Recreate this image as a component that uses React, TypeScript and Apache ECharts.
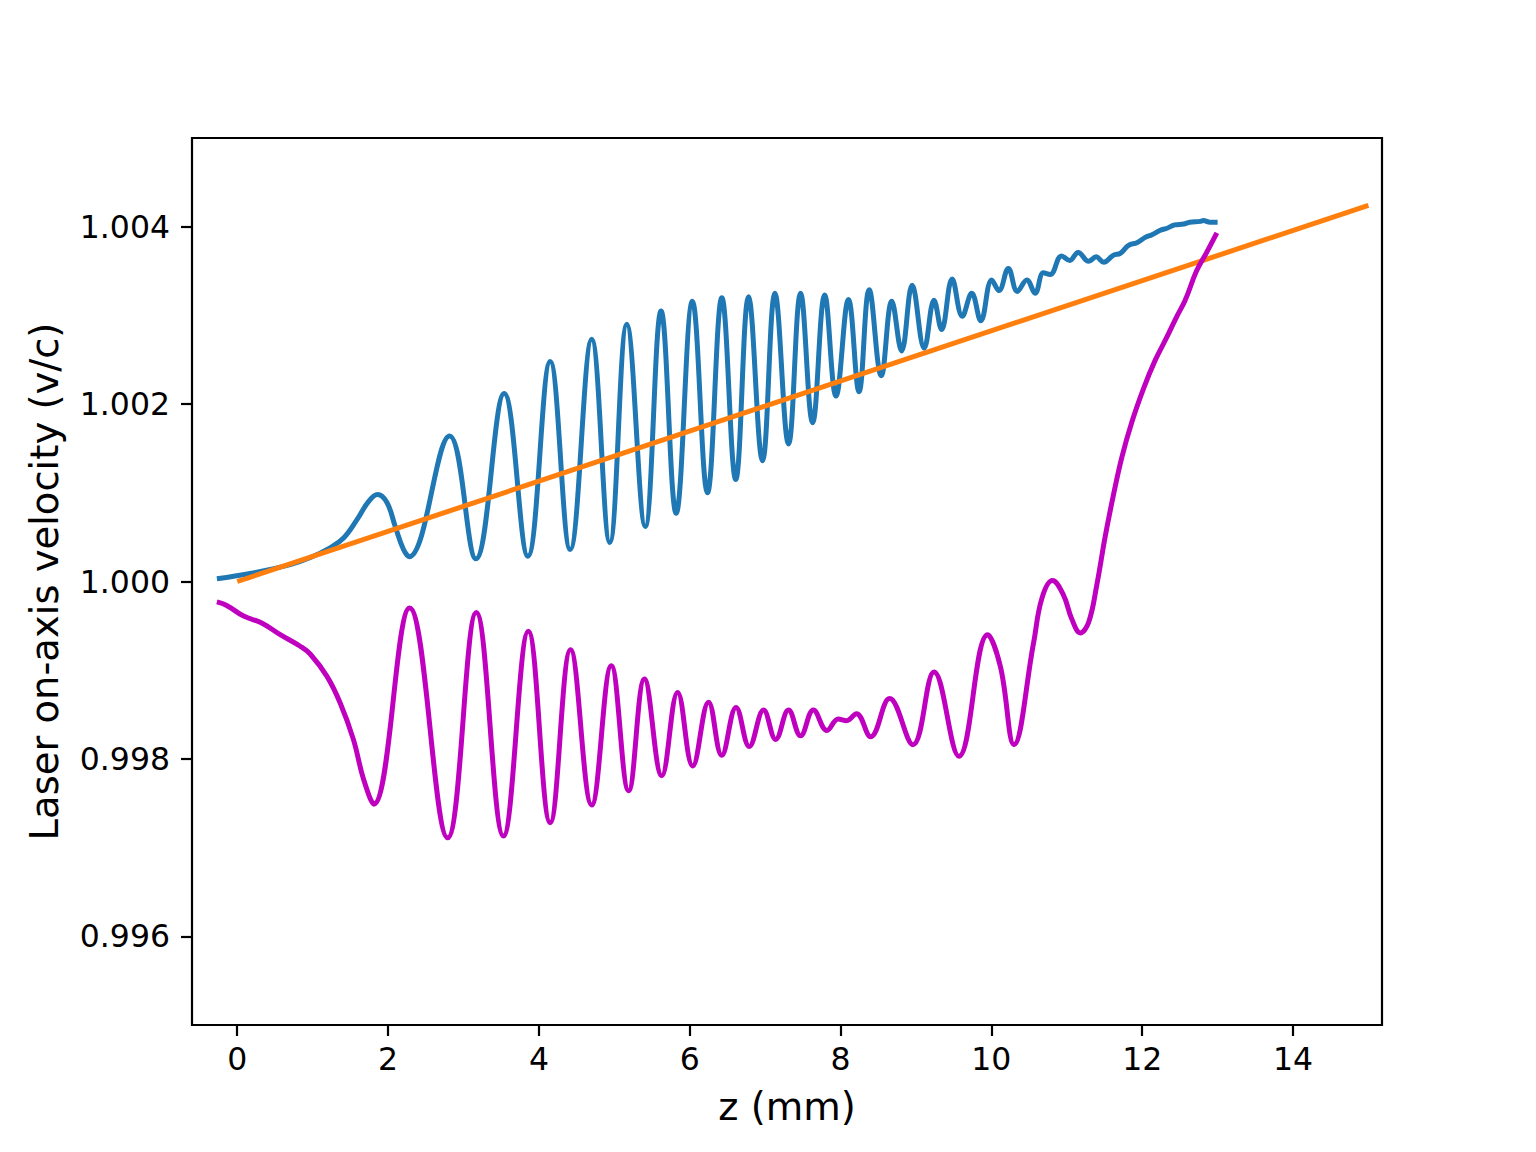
import React, { useEffect, useRef } from "react";
import * as echarts from "echarts";

// Blue curve (z in mm, v/c)
const blueZ = [
  -0.27, 0.17, 0.7, 0.97, 1.23, 1.41, 1.59, 1.74, 1.86, 1.985, 2.095, 2.205, 2.28,
  2.815, 3.165, 3.54, 3.854, 4.15, 4.415, 4.7, 4.94, 5.166, 5.41, 5.62, 5.82,
  6.036, 6.235, 6.426, 6.61, 6.78, 6.965, 7.13, 7.31, 7.47, 7.63, 7.79, 7.94, 8.105, 8.245,
  8.38, 8.54, 8.68, 8.81, 8.95, 9.11, 9.24, 9.34, 9.48, 9.615, 9.74, 9.86, 10.005, 10.1,
  10.225, 10.345, 10.47, 10.58, 10.69, 10.78, 10.93, 11.04, 11.15, 11.29, 11.39, 11.49,
  11.62, 11.71, 11.82, 11.93, 12.04, 12.13, 12.24, 12.32, 12.43, 12.55, 12.63, 12.77,
  12.81, 12.9, 13.0,
];
const blueV = [
  1.00003, 1.00009, 1.00019, 1.00027, 1.00038, 1.00049, 1.0007, 1.0009, 1.00098, 1.00089,
  1.00062, 1.00036, 1.00028, 1.00164, 1.000256, 1.00212,
  1.000285, 1.00248, 1.00036, 1.00273, 1.00044, 1.0029, 1.00062, 1.00305, 1.00077,
  1.00316, 1.001, 1.0032, 1.00115, 1.00321, 1.00136, 1.00325, 1.00155, 1.00325, 1.00179,
  1.00323, 1.00209, 1.00318, 1.00214, 1.00329, 1.00232, 1.00316, 1.0026, 1.00334,
  1.00263, 1.00317, 1.00284, 1.00341, 1.00299, 1.00325, 1.00294, 1.0034, 1.00328,
  1.00353, 1.00327, 1.0034, 1.00325, 1.00348, 1.00346, 1.00367, 1.00362, 1.00371,
  1.00361, 1.00366, 1.0036, 1.00368, 1.0037, 1.00379, 1.00382, 1.00388, 1.00391,
  1.00396, 1.00398, 1.00402, 1.00403, 1.00405, 1.00406, 1.00407, 1.00405, 1.00405,
];

// Orange straight line
const orangeZ = [0, 15];
const orangeV = [1.0, 1.00424];

// Magenta curve
const magentaZ = [
  -0.27, -0.14, 0.085, 0.33, 0.57, 0.835, 0.97, 1.19, 1.365, 1.54, 1.675, 1.81,
  2.285, 2.79, 3.17, 3.53, 3.86, 4.15, 4.42,
  4.7, 4.96, 5.19, 5.4, 5.63, 5.84, 6.04, 6.25, 6.425, 6.615, 6.79, 6.98, 7.14, 7.31,
  7.47, 7.64, 7.82, 7.97, 8.08, 8.21, 8.4, 8.65, 8.96, 9.24, 9.57, 9.95, 10.12, 10.3,
  10.56, 10.67, 10.81, 10.955, 11.065, 11.18, 11.29, 11.4, 11.51, 11.62, 11.73,
  11.86, 12.02, 12.17, 12.33, 12.46, 12.57, 12.72, 12.855, 12.99,
];
const magentaV = [
  0.99977, 0.99973, 0.99961, 0.99953, 0.9994, 0.99927, 0.99918, 0.99893, 0.99863, 0.99822,
  0.99777, 0.99749, 0.9997, 0.99711, 0.99965, 0.99713, 0.99944, 0.99728, 0.99923, 0.99748,
  0.99905, 0.99764, 0.9989, 0.99781, 0.99875, 0.99792, 0.99864, 0.99804, 0.99858,
  0.99814, 0.99855, 0.99822, 0.99855, 0.99826, 0.99855, 0.99832, 0.99845, 0.99843,
  0.99851, 0.99825, 0.99868, 0.99816, 0.99898, 0.99803, 0.9994, 0.99904, 0.99816,
  0.99931, 0.99981, 1.00001, 0.99985, 0.99958, 0.99942, 0.99954, 0.99997,
  1.00051, 1.00098, 1.0014, 1.00179, 1.00218, 1.00249, 1.00276, 1.00299, 1.00317,
  1.0035, 1.00371, 1.00393,
];

const xTicks = [0, 2, 4, 6, 8, 10, 12, 14];
const yTicks = [0.996, 0.998, 1.0, 1.002, 1.004];

const FONT = "DejaVu Sans";

function zip(a: number[], b: number[]) {
  return a.map((v, i) => [v, b[i]]);
}

export default function App() {
  const ref = useRef<HTMLDivElement>(null);
  useEffect(() => {
    if (!ref.current) return;
    const chart = echarts.init(ref.current, null, { renderer: "svg" });
    const lineW = 5;
    chart.setOption({
      animation: false,
      backgroundColor: "#ffffff",
      grid: {
        left: 192,
        top: 138,
        width: 1190,
        height: 887,
        show: true,
        borderColor: "#000",
        borderWidth: 2.2,
        backgroundColor: "transparent",
        containLabel: false,
        outerBoundsMode: "none",
      },
      xAxis: {
        type: "value",
        min: -0.6,
        max: 15.18,
        axisLine: { show: false, onZero: false },
        splitLine: { show: false },
        axisTick: {
          show: true,
          customValues: xTicks,
          length: 11,
          lineStyle: { color: "#000", width: 2.2 },
        },
        axisLabel: {
          show: true,
          customValues: xTicks,
          fontSize: 31.5,
          color: "#000",
          fontFamily: FONT,
          margin: 18,
        },
        name: "z (mm)",
        nameLocation: "middle",
        nameGap: 62,
        nameTextStyle: { fontSize: 38.5, color: "#000", fontFamily: FONT },
      },
      yAxis: {
        type: "value",
        min: 0.995,
        max: 1.005,
        axisLine: { show: false, onZero: false },
        splitLine: { show: false },
        axisTick: {
          show: true,
          customValues: yTicks,
          length: 11,
          lineStyle: { color: "#000", width: 2.2 },
        },
        axisLabel: {
          show: true,
          customValues: yTicks,
          fontSize: 31.5,
          color: "#000",
          fontFamily: FONT,
          margin: 22,
          formatter: (v: number) => v.toFixed(3),
        },
        name: "Laser on-axis velocity (v/c)",
        nameLocation: "middle",
        nameGap: 128,
        nameRotate: 90,
        nameTextStyle: { fontSize: 38.5, color: "#000", fontFamily: FONT },
      },
      series: [
        {
          type: "line",
          data: zip(blueZ, blueV),
          showSymbol: false,
          symbol: "none",
          smooth: 0.4,
          lineStyle: { color: "#1f77b4", width: lineW },
          itemStyle: { color: "#1f77b4" },
          silent: true,
        },
        {
          type: "line",
          data: zip(orangeZ, orangeV),
          showSymbol: false,
          symbol: "none",
          lineStyle: { color: "#ff7f0e", width: lineW },
          itemStyle: { color: "#ff7f0e" },
          silent: true,
        },
        {
          type: "line",
          data: zip(magentaZ, magentaV),
          showSymbol: false,
          symbol: "none",
          smooth: 0.4,
          lineStyle: { color: "#bf00bf", width: lineW },
          itemStyle: { color: "#bf00bf" },
          silent: true,
        },
      ],
    });
    return () => chart.dispose();
  }, []);
  return (
    <div
      ref={ref}
      style={{ position: "absolute", left: 0, top: 0, width: 1536, height: 1152 }}
    />
  );
}
